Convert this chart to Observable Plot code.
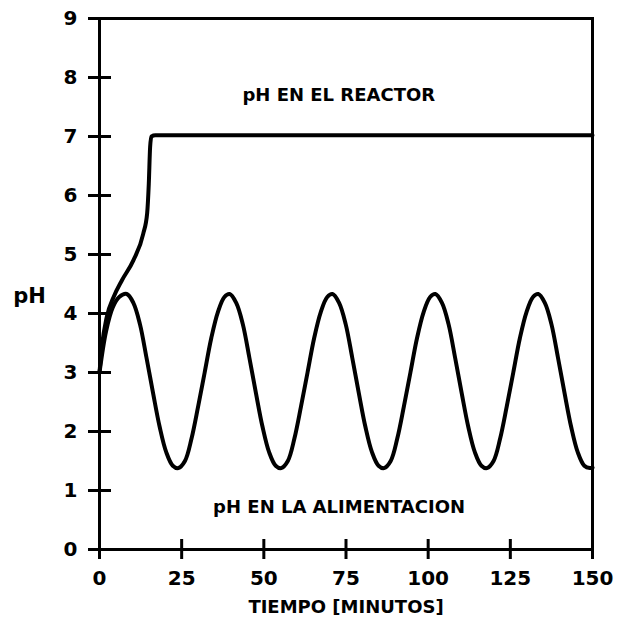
<!DOCTYPE html>
<html><head><meta charset="utf-8">
<script src="https://cdn.jsdelivr.net/npm/d3@7"></script>
<script src="https://cdn.jsdelivr.net/npm/@observablehq/plot@0.6"></script>
<style>html,body{margin:0;padding:0;background:#fff}</style>
</head><body><div id="chart"></div>
<script>
const xTicks = [0, 25, 50, 75, 100, 125, 150];
const yTicks = [0, 1, 2, 3, 4, 5, 6, 7, 8, 9];

const feedTime = [0, 2, 4, 6, 8.3,
  10.3, 12.3, 14.3, 16.3, 18.3, 20.3, 22.3, 24,
  26, 28, 30, 32, 34, 36, 38, 39.6,
  41.6, 43.6, 45.6, 47.6, 49.6, 51.6, 53.6, 55.3,
  57.3, 59.3, 61.3, 63.3, 65.3, 67.3, 69.3, 70.9,
  72.9, 74.9, 76.9, 78.9, 80.9, 82.9, 84.9, 86.6,
  88.6, 90.6, 92.6, 94.6, 96.6, 98.6, 100.6, 102.2,
  104.2, 106.2, 108.2, 110.2, 112.2, 114.2, 116.2, 117.9,
  119.9, 121.9, 123.9, 125.9, 127.9, 129.9, 131.9, 133.5,
  135.5, 137.5, 139.5, 141.5, 143.5, 145.5, 147.5, 149.2, 150];
const feedPH = [3.0, 3.7, 4.1, 4.28, 4.33,
  4.18, 3.82, 3.25, 2.65, 2.08, 1.65, 1.42, 1.38,
  1.5, 1.88, 2.42, 3.0, 3.58, 4.02, 4.28, 4.33,
  4.18, 3.82, 3.25, 2.65, 2.08, 1.65, 1.42, 1.38,
  1.5, 1.88, 2.42, 3.0, 3.58, 4.02, 4.28, 4.33,
  4.18, 3.82, 3.25, 2.65, 2.08, 1.65, 1.42, 1.38,
  1.5, 1.88, 2.42, 3.0, 3.58, 4.02, 4.28, 4.33,
  4.18, 3.82, 3.25, 2.65, 2.08, 1.65, 1.42, 1.38,
  1.5, 1.88, 2.42, 3.0, 3.58, 4.02, 4.28, 4.33,
  4.18, 3.82, 3.25, 2.65, 2.08, 1.65, 1.42, 1.38, 1.39];

const reactorTime = [0, 0.7, 2.2, 4.3, 6.8, 10.3, 13.3, 14.5, 15.0, 15.4, 15.8, 17, 150];
const reactorPH = [3.0, 3.43, 3.94, 4.28, 4.56, 4.9, 5.35, 5.7, 6.2, 6.82, 7.0, 7.02, 7.02];

const labelReactor = "pH EN EL REACTOR";
const labelFeed = "pH EN LA ALIMENTACION";
const xTitle = "TIEMPO [MINUTOS]";
const yTitle = "pH";

const feed = feedTime.map((t, i) => ({t, ph: feedPH[i]}));
const reactor = reactorTime.map((t, i) => ({t, ph: reactorPH[i]}));

const font = {fontFamily: "DejaVu Sans", fontWeight: "bold"};

const chart = Plot.plot({
  width: 618, height: 623,
  marginLeft: 99, marginRight: 26, marginTop: 18, marginBottom: 74,
  x: {domain: [0, 150], ticks: xTicks},
  y: {domain: [0, 9], ticks: yTicks},
  style: {fontFamily: "DejaVu Sans", fontWeight: "bold", color: "#000", background: "#fff"},
  marks: [
    Plot.frame({stroke: "#000", strokeWidth: 3}),
    Plot.axisY(yTicks, {tickSize: 23, dx: 12, text: null, strokeWidth: 3, label: null}),
    Plot.axisY(yTicks, {tickSize: 0, tickPadding: 22, label: null, tickFormat: d3.format("d"), fontSize: 20, ...font}),
    Plot.axisX(xTicks, {tickSize: 20, dy: -10, text: null, strokeWidth: 3, label: null}),
    Plot.axisX(xTicks, {tickSize: 0, tickPadding: 21, label: null, tickFormat: d3.format("d"), fontSize: 20, ...font}),
    Plot.line(feed, {x: "t", y: "ph", curve: "catmull-rom", stroke: "#000", strokeWidth: 4}),
    Plot.line(reactor, {x: "t", y: "ph", curve: "monotone-x", stroke: "#000", strokeWidth: 4}),
    Plot.text([labelReactor], {x: 72.8, y: 7.7, text: d => d, fontSize: 18, ...font}),
    Plot.text([labelFeed], {x: 72.9, y: 0.72, text: d => d, fontSize: 18, ...font}),
    Plot.text([xTitle], {frameAnchor: "bottom", dy: 63, text: d => d, fontSize: 18, ...font}),
    Plot.text([yTitle], {frameAnchor: "left", y: 4.3, dx: -70, textAnchor: "middle", text: d => d, fontSize: 21, ...font})
  ]
});
document.getElementById("chart").appendChild(chart);
</script>
</body></html>
